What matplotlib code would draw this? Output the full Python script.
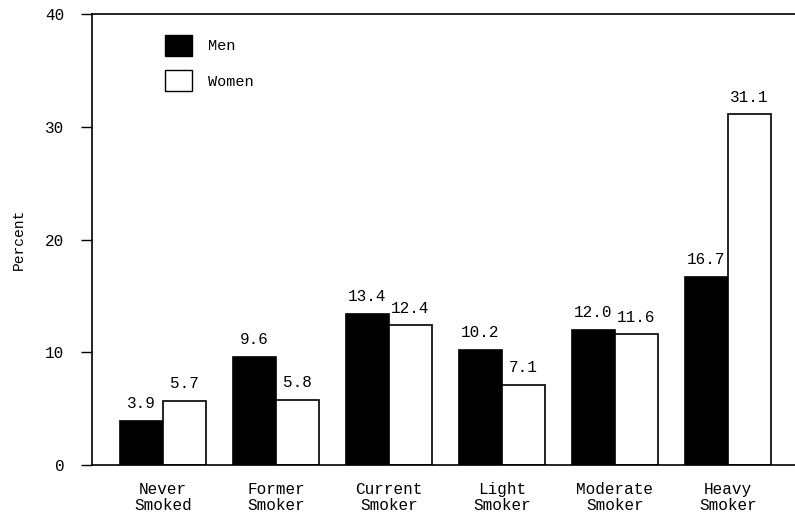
import matplotlib.pyplot as plt
import numpy as np
from matplotlib.patches import Patch

categories = ["Never\nSmoked", "Former\nSmoker", "Current\nSmoker",
              "Light\nSmoker", "Moderate\nSmoker", "Heavy\nSmoker"]
men = [3.9, 9.6, 13.4, 10.2, 12.0, 16.7]
women = [5.7, 5.8, 12.4, 7.1, 11.6, 31.1]
y_ticks = [0, 10, 20, 30, 40]

plt.rcParams["font.family"] = ["Liberation Mono", "DejaVu Sans Mono"]

fig = plt.figure(figsize=(7.95, 5.2), dpi=100)
ax = fig.add_axes([0.1157, 0.1058, 0.8843, 0.867])

x = np.arange(len(categories))
width = 0.38

men_bars = ax.bar(x - width / 2, men, width, color="black",
                  edgecolor="black", linewidth=1.2)
women_bars = ax.bar(x + width / 2, women, width, color="white",
                    edgecolor="black", linewidth=1.2)

for bars, vals in ((men_bars, men), (women_bars, women)):
    for b, v in zip(bars, vals):
        ax.annotate(f"{v:.1f}", (b.get_x() + b.get_width() / 2, v),
                    xytext=(0, 7), textcoords="offset points",
                    ha="center", va="bottom", fontsize=11.5)

ax.set_xlim(-0.628, 5.593)
ax.set_ylim(0, 40)
ax.set_yticks(y_ticks)
ax.set_xticks(x)
ax.set_xticklabels(categories, fontsize=11.5, linespacing=1.15)
ax.tick_params(axis="x", length=0, pad=12)
ax.tick_params(axis="y", direction="out", length=8, width=1, labelsize=11.5, pad=12)
ax.set_ylabel("Percent", fontsize=10.5, labelpad=14)

ax.spines["right"].set_visible(False)
for s in ("left", "top", "bottom"):
    ax.spines[s].set_linewidth(1.2)

handles = [Patch(facecolor="black", edgecolor="black", label="Men"),
           Patch(facecolor="white", edgecolor="black", label="Women")]
ax.legend(handles=handles, loc="upper left", bbox_to_anchor=(0.085, 0.985),
          frameon=False, handlelength=1.75, handleheight=1.75,
          labelspacing=0.95, handletextpad=1.0, fontsize=11)

fig.savefig("out.png", dpi=100)
